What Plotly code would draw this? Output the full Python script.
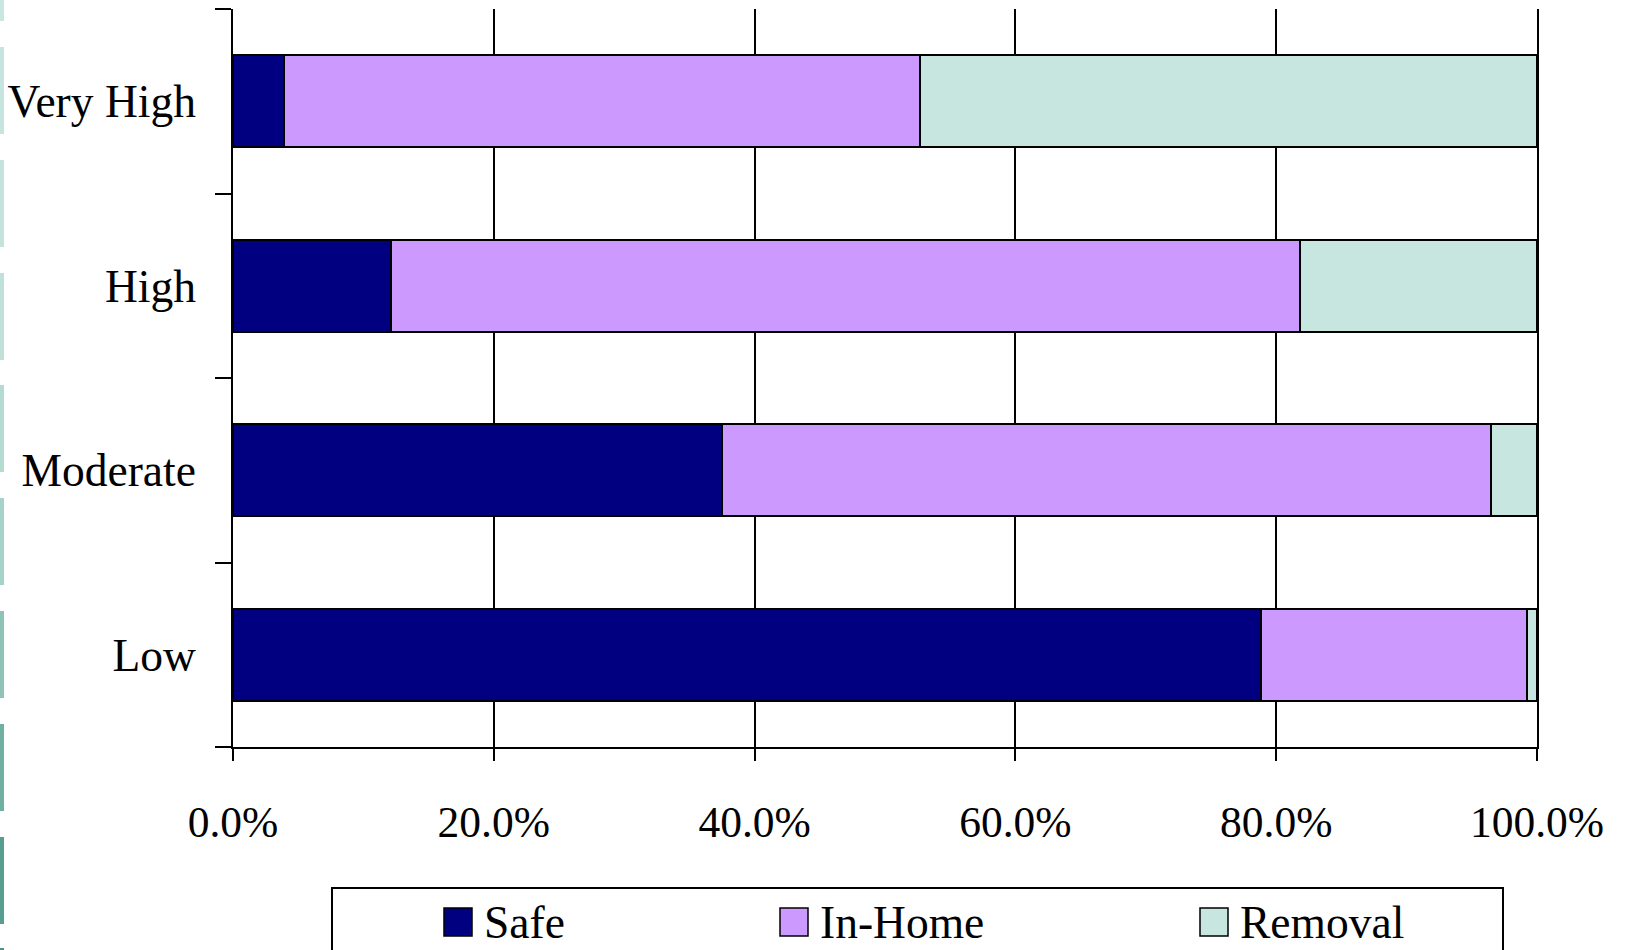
import plotly.graph_objects as go

# ---------------- data ----------------
categories = ["Low", "Moderate", "High", "Very High"]
safe = [78.8, 37.5, 12.1, 3.9]
in_home = [20.4, 59.0, 69.7, 48.8]
removal = [0.8, 3.5, 18.2, 47.3]

series_names = ["Safe", "In-Home", "Removal"]
series_colors = ["#000080", "#CC99FF", "#C7E6E0"]

x_tickvals = [0, 20, 40, 60, 80, 100]
x_ticktext = ["0.0%", "20.0%", "40.0%", "60.0%", "80.0%", "100.0%"]

# ---------------- layout geometry (pixels) ----------------
W, H = 1627, 950
PL, PR, PT, PB = 233, 1537, 9, 747  # plot area edges


def px_x(p):
    return (p - PL) / (PR - PL)


def px_y(p):
    return (PB - p) / (PB - PT)


FONT = "Liberation Serif, Times New Roman, serif"

fig = go.Figure()
for name, vals, col in zip(series_names, [safe, in_home, removal], series_colors):
    fig.add_trace(go.Bar(
        y=categories, x=vals, name=name, orientation="h",
        marker=dict(color=col, line=dict(color="black", width=2)),
        width=0.5, showlegend=False, hoverinfo="skip",
    ))

fig.update_layout(
    width=W, height=H,
    margin=dict(l=PL, r=W - PR, t=PT, b=H - PB),
    barmode="stack",
    paper_bgcolor="white", plot_bgcolor="white",
    font=dict(family=FONT, color="black", size=45),
)

fig.update_xaxes(
    range=[0, 100], tickvals=x_tickvals, ticktext=x_ticktext,
    ticks="outside", ticklen=12, tickwidth=2, tickcolor="black",
    showline=True, linewidth=2, linecolor="black",
    showgrid=True, gridcolor="black", gridwidth=2, zeroline=False,
    tickfont=dict(family=FONT, size=43.5, color="black"),
    ticklabelstandoff=24,
)
fig.update_yaxes(
    type="category", categoryorder="array", categoryarray=categories,
    range=[-0.5, len(categories) - 0.5],
    tickson="boundaries", ticks="outside", ticklen=16, tickwidth=2, tickcolor="black",
    showline=True, linewidth=2, linecolor="black", mirror=True,
    showgrid=False, zeroline=False,
    tickfont=dict(family=FONT, size=45.5, color="black"),
    ticklabelstandoff=26,
)

shapes = []
annotations = []

# decorative teal stripes on the left edge
stripe_colors = ["#C9E6E1", "#C7E5E0", "#C4E3DD", "#BFE1DA", "#B4DBD2",
                 "#A6D3C9", "#8FC3B7", "#70AFA1", "#569F90", "#4A9686"]
stripe_tops = [-66, 47, 160, 273, 385, 498, 611, 724, 837, 948]
for top, col in zip(stripe_tops, stripe_colors):
    shapes.append(dict(type="rect", xref="paper", yref="paper",
                       x0=px_x(0), x1=px_x(4), y0=px_y(top), y1=px_y(top + 87),
                       fillcolor=col, line=dict(width=0), layer="below"))

# legend box
shapes.append(dict(type="rect", xref="paper", yref="paper",
                   x0=px_x(332), x1=px_x(1503), y0=px_y(888), y1=px_y(970),
                   fillcolor="white", line=dict(color="black", width=2)))
legend_marker_x = [444, 780, 1200]
for name, col, mx in zip(series_names, series_colors, legend_marker_x):
    shapes.append(dict(type="rect", xref="paper", yref="paper",
                       x0=px_x(mx), x1=px_x(mx + 28), y0=px_y(908), y1=px_y(936),
                       fillcolor=col, line=dict(color="black", width=1.5)))
    annotations.append(dict(xref="paper", yref="paper", x=px_x(mx + 38), y=px_y(922),
                            text=name, showarrow=False, xanchor="left", yanchor="middle",
                            font=dict(family=FONT, size=45.5, color="black")))

fig.update_layout(shapes=shapes, annotations=annotations)

fig.write_html("out.html")
